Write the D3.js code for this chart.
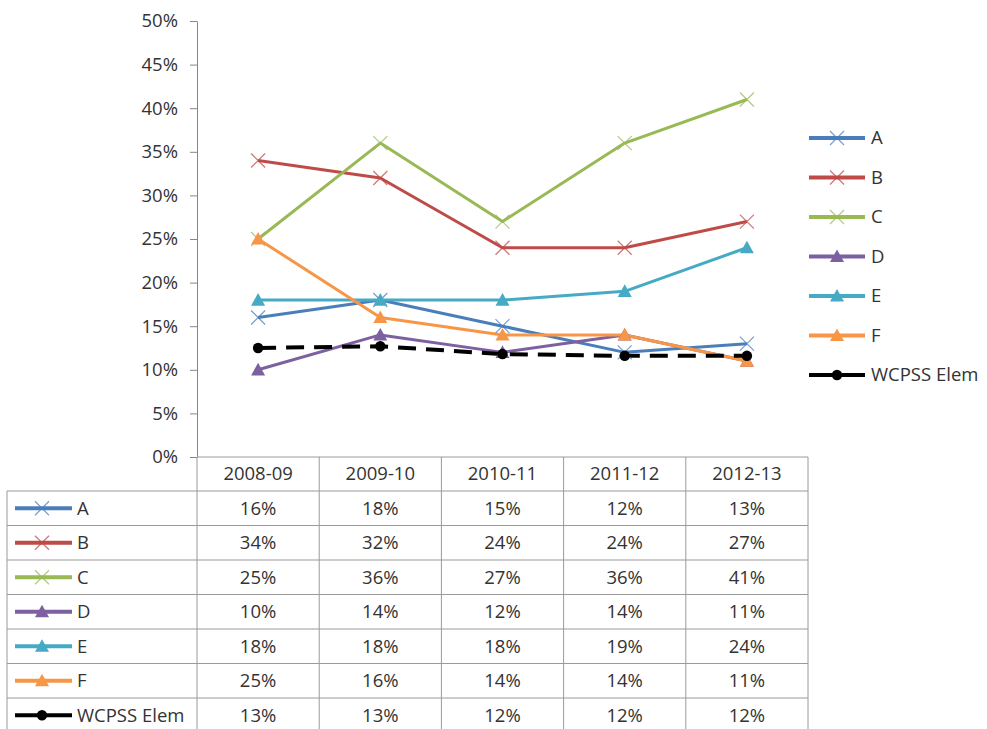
<!DOCTYPE html>
<html>
<head>
<meta charset="utf-8">
<script src="https://cdn.jsdelivr.net/npm/d3@7"></script>
<style>
  body { margin: 0; background: #fff; }
  svg text { font-family: "Open Sans", "Noto Sans", sans-serif; fill: #333; }
</style>
</head>
<body>
<svg id="chart" width="987" height="729"></svg>
<script>
// data
const years = ["2008-09", "2009-10", "2010-11", "2011-12", "2012-13"];
const seriesNames = ["A", "B", "C", "D", "E", "F", "WCPSS Elem"];
const valuesA = [16, 18, 15, 12, 13];
const valuesB = [34, 32, 24, 24, 27];
const valuesC = [25, 36, 27, 36, 41];
const valuesD = [10, 14, 12, 14, 11];
const valuesE = [18, 18, 18, 19, 24];
const valuesF = [25, 16, 14, 14, 11];
const valuesWcpss = [12.5, 12.7, 11.8, 11.6, 11.6];
const yTicks = [0, 5, 10, 15, 20, 25, 30, 35, 40, 45, 50];

const colors = ["#4a7ebb", "#be4b48", "#98b954", "#7d60a0", "#46aac5", "#f79646", "#000"];
const markers = ["x", "x", "x", "tri", "tri", "tri", "dot"];
const allValues = [valuesA, valuesB, valuesC, valuesD, valuesE, valuesF, valuesWcpss];

const series = seriesNames.map((name, i) => ({
    name: name,
    values: allValues[i],
    color: colors[i],
    marker: markers[i],
    dashed: i === 6,
}));

const svg = d3.select("#chart");
const fontSize = 18.5;

const plotLeft = 197, plotRight = 808, plotTop = 21, plotBottom = 457;

const x = d3.scaleBand().domain(years).range([plotLeft, plotRight]);
const y = d3.scaleLinear().domain([0, 50]).range([plotBottom, plotTop]);
const cx = (d) => x(d) + x.bandwidth() / 2;

// y axis
const yAxis = svg
    .append("g")
    .attr("transform", `translate(${plotLeft},0)`)
    .call(
        d3.axisLeft(y)
            .tickValues(yTicks)
            .tickSize(7)
            .tickSizeOuter(0)
            .tickPadding(12)
            .tickFormat((d) => d + "%")
    );
yAxis.select(".domain").attr("stroke", "#878787");
yAxis.selectAll(".tick line").attr("stroke", "#878787");
yAxis.selectAll(".tick text")
    .attr("font-size", fontSize)
    .attr("font-family", '"Open Sans", sans-serif')
    .attr("fill", "#333");

// marker drawing
function drawMarker(g, type, color, px, py, s) {
    if (type === "x") {
        g.append("path")
            .attr("d", `M${px - s},${py - s}L${px + s},${py + s}M${px - s},${py + s}L${px + s},${py - s}`)
            .attr("stroke", color)
            .attr("stroke-width", 1.2)
            .attr("opacity", 0.75);
    } else if (type === "tri") {
        g.append("path")
            .attr("d", `M${px},${py - s}L${px + s},${py + s * 0.8}L${px - s},${py + s * 0.8}Z`)
            .attr("fill", color);
    } else {
        g.append("circle").attr("cx", px).attr("cy", py).attr("r", s * 0.75).attr("fill", color);
    }
}

const line = d3.line()
    .x((d, i) => cx(years[i]))
    .y((d) => y(d));

const plot = svg.append("g");
series.forEach((s) => {
    plot.append("path")
        .datum(s.values)
        .attr("d", line)
        .attr("fill", "none")
        .attr("stroke", s.color)
        .attr("stroke-width", s.dashed ? 4 : 3)
        .attr("stroke-dasharray", s.dashed ? "18,10" : null)
        .attr("stroke-linejoin", "round");
});
series.forEach((s) => {
    s.values.forEach((v, i) => {
        drawMarker(plot, s.marker, s.color, cx(years[i]), y(v), 7);
    });
});

// legend on the right
const legend = svg.append("g");
series.forEach((s, i) => {
    const ly = 138 + i * 39.5;
    legend.append("line")
        .attr("x1", 809).attr("x2", 865)
        .attr("y1", ly).attr("y2", ly)
        .attr("stroke", s.color).attr("stroke-width", 4);
    drawMarker(legend, s.marker, s.color, 837, ly, 7);
    legend.append("text")
        .attr("x", 871).attr("y", ly)
        .attr("dy", "0.35em")
        .attr("font-size", fontSize)
        .text(s.name);
});

// data table
const table = svg.append("g");
const rowH = 34.5;
const headTop = plotBottom, headBottom = 491;
const tableLeft = 7;
const grid = "#9a9a9a";

// header row
table.append("line").attr("x1", plotLeft).attr("x2", plotRight).attr("y1", headTop).attr("y2", headTop).attr("stroke", grid);
years.forEach((yr) => {
    table.append("text")
        .attr("x", cx(yr)).attr("y", (headTop + headBottom) / 2)
        .attr("dy", "0.35em").attr("text-anchor", "middle")
        .attr("font-size", fontSize).text(yr);
});

const tableBottom = headBottom + rowH * series.length;
// horizontal rules
d3.range(series.length + 1).forEach((i) => {
    const ry = headBottom + i * rowH;
    table.append("line").attr("x1", tableLeft).attr("x2", plotRight).attr("y1", ry).attr("y2", ry).attr("stroke", grid);
});
// vertical rules
table.append("line").attr("x1", tableLeft).attr("x2", tableLeft).attr("y1", headBottom).attr("y2", tableBottom).attr("stroke", grid);
years.forEach((yr) => {
    table.append("line").attr("x1", x(yr)).attr("x2", x(yr)).attr("y1", headTop).attr("y2", tableBottom).attr("stroke", grid);
});
table.append("line").attr("x1", plotRight).attr("x2", plotRight).attr("y1", headTop).attr("y2", tableBottom).attr("stroke", grid);

series.forEach((s, i) => {
    const ry = headBottom + i * rowH + rowH / 2;
    table.append("line")
        .attr("x1", 15).attr("x2", 72)
        .attr("y1", ry).attr("y2", ry)
        .attr("stroke", s.color).attr("stroke-width", 4);
    drawMarker(table, s.marker, s.color, 42, ry, 7);
    table.append("text")
        .attr("x", 77).attr("y", ry).attr("dy", "0.35em")
        .attr("font-size", fontSize).text(s.name);
    s.values.forEach((v, j) => {
        table.append("text")
            .attr("x", cx(years[j])).attr("y", ry).attr("dy", "0.35em")
            .attr("text-anchor", "middle")
            .attr("font-size", fontSize)
            .text(Math.round(v) + "%");
    });
});
</script>
</body>
</html>
